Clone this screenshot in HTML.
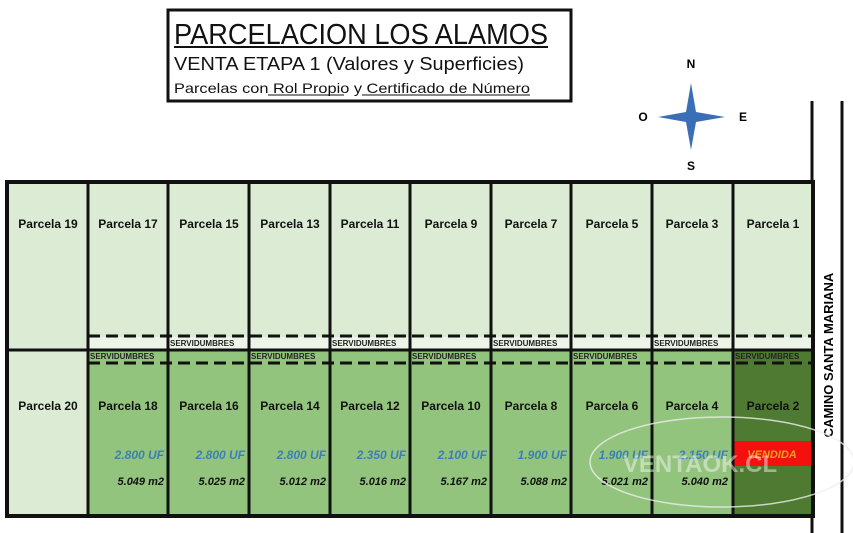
<!DOCTYPE html>
<html><head><meta charset="utf-8"><style>
html,body{margin:0;padding:0;background:#fff;width:853px;height:533px;overflow:hidden}
svg{display:block}
text{font-family:"Liberation Sans",sans-serif}
</style></head><body>
<svg width="853" height="533" viewBox="0 0 853 533" xmlns="http://www.w3.org/2000/svg">
<rect x="0" y="0" width="853" height="533" fill="#fff"/>
<!-- title box -->
<rect x="168" y="10" width="403" height="91" fill="#fff" stroke="#111" stroke-width="3"/>
<text x="174" y="44" font-size="29" fill="#111" textLength="374" lengthAdjust="spacingAndGlyphs">PARCELACION LOS ALAMOS</text>
<line x1="174" y1="47" x2="548" y2="47" stroke="#111" stroke-width="2"/>
<text x="174" y="70" font-size="18" fill="#111" textLength="350" lengthAdjust="spacingAndGlyphs">VENTA ETAPA 1 (Valores y Superficies)</text>
<text x="174" y="93" font-size="14" fill="#111" textLength="356" lengthAdjust="spacingAndGlyphs">Parcelas con Rol Propio y Certificado de Número</text>
<line x1="268" y1="95" x2="344" y2="95" stroke="#111" stroke-width="1"/>
<line x1="362" y1="95" x2="530" y2="95" stroke="#111" stroke-width="1"/>
<!-- compass -->
<path d="M691 83 L696 112 L725 117 L696 122 L691 150 L686 122 L658 117 L686 112 Z" fill="#3a6fb8"/>
<text x="691" y="68" font-size="12" font-weight="bold" text-anchor="middle">N</text>
<text x="691" y="170" font-size="12" font-weight="bold" text-anchor="middle">S</text>
<text x="643" y="121" font-size="12" font-weight="bold" text-anchor="middle">O</text>
<text x="743" y="121" font-size="12" font-weight="bold" text-anchor="middle">E</text>
<!-- road -->
<line x1="812" y1="101" x2="812" y2="533" stroke="#111" stroke-width="3"/>
<line x1="842" y1="101" x2="842" y2="533" stroke="#111" stroke-width="3"/>
<text transform="translate(833,355) rotate(-90)" font-size="13" font-weight="bold" text-anchor="middle">CAMINO SANTA MARIANA</text>
<!-- fills -->
<rect x="8" y="182" width="804" height="334" fill="#dcebd3"/>
<rect x="88" y="350" width="724" height="166" fill="#93c47d"/>
<rect x="733" y="350" width="79" height="166" fill="#4e7a31"/>
<rect x="88" y="337" width="724" height="12" fill="#edf5e9"/>
<!-- VENDIDA -->
<rect x="733" y="441" width="79" height="25" fill="#f51010"/>
<text x="772" y="458" font-size="11" font-weight="bold" font-style="italic" fill="#f0a020" text-anchor="middle">VENDIDA</text>
<!-- grid -->
<g stroke="#111" stroke-width="3">
<line x1="88" y1="182" x2="88" y2="516"/><line x1="168" y1="182" x2="168" y2="516"/>
<line x1="249" y1="182" x2="249" y2="516"/><line x1="330" y1="182" x2="330" y2="516"/>
<line x1="410" y1="182" x2="410" y2="516"/><line x1="491" y1="182" x2="491" y2="516"/>
<line x1="571" y1="182" x2="571" y2="516"/><line x1="652" y1="182" x2="652" y2="516"/>
<line x1="733" y1="182" x2="733" y2="516"/>
<line x1="8" y1="350" x2="812" y2="350"/>
</g>
<g stroke="#111" stroke-width="3" stroke-dasharray="12,6">
<line x1="88" y1="336" x2="812" y2="336"/>
<line x1="88" y1="363" x2="812" y2="363"/>
</g>
<rect x="7" y="182" width="806" height="334" fill="none" stroke="#111" stroke-width="4"/>
<!-- servidumbres -->
<g font-size="8" fill="#222" font-weight="bold">
<text x="170" y="346">SERVIDUMBRES</text><text x="332" y="346">SERVIDUMBRES</text>
<text x="493" y="346">SERVIDUMBRES</text><text x="654" y="346">SERVIDUMBRES</text>
<text x="90" y="359">SERVIDUMBRES</text><text x="251" y="359">SERVIDUMBRES</text>
<text x="412" y="359">SERVIDUMBRES</text><text x="573" y="359">SERVIDUMBRES</text>
<text x="735" y="359">SERVIDUMBRES</text>
</g>
<!-- labels -->
<g font-size="12" font-weight="bold" fill="#111" text-anchor="middle">
<text x="48" y="228">Parcela 19</text><text x="128" y="228">Parcela 17</text>
<text x="209" y="228">Parcela 15</text><text x="290" y="228">Parcela 13</text>
<text x="370" y="228">Parcela 11</text><text x="451" y="228">Parcela 9</text>
<text x="531" y="228">Parcela 7</text><text x="612" y="228">Parcela 5</text>
<text x="692" y="228">Parcela 3</text><text x="773" y="228">Parcela 1</text>
<text x="48" y="410">Parcela 20</text><text x="128" y="410">Parcela 18</text>
<text x="209" y="410">Parcela 16</text><text x="290" y="410">Parcela 14</text>
<text x="370" y="410">Parcela 12</text><text x="451" y="410">Parcela 10</text>
<text x="531" y="410">Parcela 8</text><text x="612" y="410">Parcela 6</text>
<text x="692" y="410">Parcela 4</text><text x="773" y="410">Parcela 2</text>
</g>
<g font-size="12" font-weight="bold" font-style="italic" fill="#3c7fb8" text-anchor="end">
<text x="164" y="459">2.800 UF</text><text x="245" y="459">2.800 UF</text>
<text x="326" y="459">2.800 UF</text><text x="406" y="459">2.350 UF</text>
<text x="487" y="459">2.100 UF</text><text x="567" y="459">1.900 UF</text>
<text x="648" y="459">1.900 UF</text><text x="728" y="459">2.150 UF</text>
</g>
<g font-size="11" font-weight="bold" font-style="italic" fill="#111" text-anchor="end">
<text x="164" y="485">5.049  m2</text><text x="245" y="485">5.025  m2</text>
<text x="326" y="485">5.012  m2</text><text x="406" y="485">5.016  m2</text>
<text x="487" y="485">5.167  m2</text><text x="567" y="485">5.088  m2</text>
<text x="648" y="485">5.021  m2</text><text x="728" y="485">5.040  m2</text>
</g>
<!-- watermark -->
<ellipse cx="722" cy="462" rx="132" ry="45" fill="none" stroke="#eee" stroke-opacity="0.8" stroke-width="1.5"/>
<text x="700" y="472" font-size="24" font-weight="bold" fill="#fff" fill-opacity="0.45" text-anchor="middle">VENTAOK.CL</text>
</svg>
</body></html>
